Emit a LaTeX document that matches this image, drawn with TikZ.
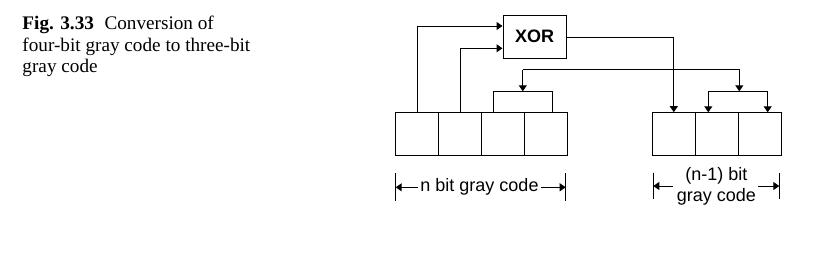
\documentclass[tikz,border=0pt]{standalone}
\usepackage{fontspec}
\setmainfont{Liberation Serif}
\setsansfont{Liberation Sans}
\usetikzlibrary{arrows.meta}
\begin{document}
\begin{tikzpicture}[x=1pt,y=-1pt,
  line width=1pt,
  tip/.style={-{Triangle[length=6pt,width=8pt]}},
  cell/.style={draw,minimum width=43pt,minimum height=43pt,inner sep=0pt,outer sep=0pt},
  lbl/.style={font=\sffamily\fontsize{18}{21}\selectfont,inner sep=0pt,align=center},
  captxt/.style={anchor=base west,inner sep=0pt,font=\rmfamily\fontsize{19.2}{21.5}\selectfont},
  tick/.style={line width=1pt}]
\useasboundingbox (0,0) rectangle (839,265);
% caption
\node[captxt] (cap1) at (22,30) {\textbf{Fig. 3.33}\hspace{0.55em}Conversion of};
\node[captxt] (cap2) at (22,51.5) {four-bit gray code to three-bit};
\node[captxt] (cap3) at (22,72.5) {gray code};
% XOR
\node[draw,minimum width=63pt,minimum height=43pt,inner sep=0pt,font=\sffamily\bfseries\fontsize{18}{21}\selectfont] (xor) at (534.5,36.5) {XOR};
% left cells
\node[cell] (a1) at (417.2,133.7) {};
\node[cell] (a2) at (460.2,133.7) {};
\node[cell] (a3) at (503.2,133.7) {};
\node[cell] (a4) at (546.2,133.7) {};
% right cells
\node[cell] (b1) at (673.8,133.7) {};
\node[cell] (b2) at (716.8,133.7) {};
\node[cell] (b3) at (759.8,133.7) {};
% inputs to XOR
\coordinate (xin1) at (xor.west |- 0,26);
\coordinate (xin2) at (xor.west |- 0,48.3);
\draw[tip] (a1.north) |- (xin1);
\draw[tip] (a2.north) |- (xin2);
% XOR output
\coordinate (xout) at (xor.east |- 0,37.3);
\draw[tip] (xout) -| (b1.north);
% left bracket
\coordinate (lb1) at (493.3,112.3);
\coordinate (lb2) at (552.3,112.3);
\coordinate (lbt) at (522.8,91.3);
\draw (lb1) |- (lbt) -| (lb2);
% right bracket
\coordinate (rb1) at (708.3,112.3);
\coordinate (rb2) at (767.7,112.3);
\coordinate (rbt) at (739.3,91.3);
\draw[tip] (rbt) -| (rb1);
\draw[tip] (rbt) -| (rb2);
% link from left bracket to right bracket
\coordinate (lnk) at (522.8,69.7);
\draw[tip] (lnk) -- (lbt);
\draw[tip] (lnk) -| (rbt);
% left dimension
\coordinate (lt1a) at (395.7,173);
\coordinate (lt1b) at (395.7,201);
\coordinate (lt2a) at (565.7,173);
\coordinate (lt2b) at (565.7,201);
\draw[tick] (lt1a) -- (lt1b);
\draw[tick] (lt2a) -- (lt2b);
\node[lbl] (nl) at (479.5,187.3) {n bit gray code};
\draw[tip] (nl.west) ++(-2,0) coordinate (nlw) -- (lt1a |- nlw);
\draw[tip] (nl.east) ++(2,0) coordinate (nle) -- (lt2a |- nle);
% right dimension
\coordinate (rt1a) at (653.3,172.7);
\coordinate (rt1b) at (653.3,199);
\coordinate (rt2a) at (779.3,172.7);
\coordinate (rt2b) at (779.3,199);
\draw[tick] (rt1a) -- (rt1b);
\draw[tick] (rt2a) -- (rt2b);
\node[lbl] (rl) at (716.3,186) {(n-1) bit\\gray code};
\coordinate (rla) at (673,186);
\coordinate (rlb) at (758,186);
\draw[tip] (rla) -- (rt1a |- rla);
\draw[tip] (rlb) -- (rt2a |- rlb);
\end{tikzpicture}
\end{document}
